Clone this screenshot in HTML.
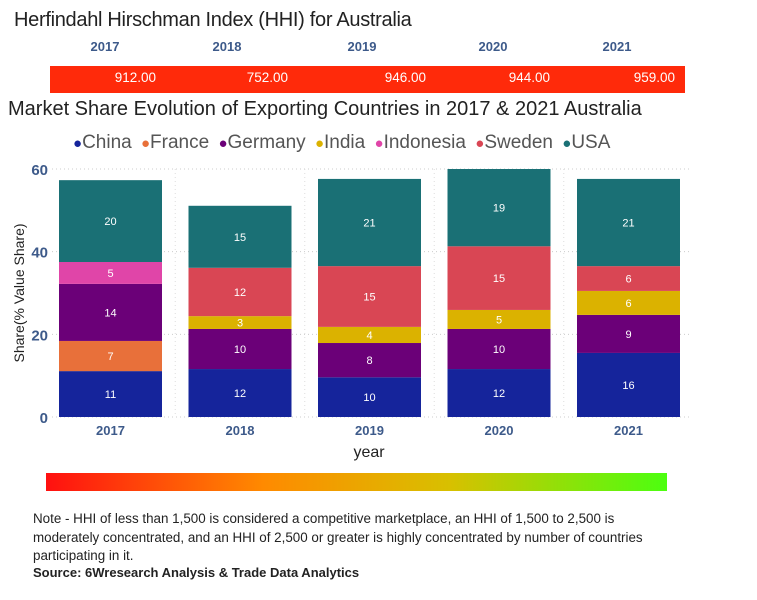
<!DOCTYPE html>
<html><head><meta charset="utf-8"><style>
body{margin:0;width:757px;height:600px;background:#fff;font-family:"Liberation Sans",sans-serif;position:relative;overflow:hidden}
.abs{position:absolute}
</style></head><body>
<div class="abs" style="left:14px;top:9px;font-size:20px;color:#222;letter-spacing:-0.3px">Herfindahl Hirschman Index (HHI) for Australia</div>
<div class="abs" style="left:50px;top:66px;width:635px;height:27px;background:#ff2a0a"></div>
<div class="abs" style="left:8px;top:98px;font-size:20px;color:#222">Market Share Evolution of Exporting Countries in 2017 &amp; 2021 Australia</div>
<div class="abs" style="left:73px;top:132px;font-size:19px;color:#555;white-space:nowrap;word-spacing:4px" id="legend"></div>
<svg class="abs" style="left:0;top:0" width="757" height="600" id="chart"></svg>
<div class="abs" style="left:46px;top:473px;width:621px;height:18px;background:linear-gradient(90deg,#ff1010,#ff8a00 35%,#d8c000 65%,#4cff10)"></div>
<div class="abs" style="left:33px;top:510px;width:650px;font-size:13.4px;line-height:18.5px;color:#222">Note - HHI of less than 1,500 is considered a competitive marketplace, an HHI of 1,500 to 2,500 is moderately concentrated, and an HHI of 2,500 or greater is highly concentrated by number of countries participating in it.</div>
<div class="abs" style="left:33px;top:565px;font-size:13px;font-weight:bold;color:#222">Source: 6Wresearch Analysis &amp; Trade Data Analytics</div>
<script>
const years=["2017","2018","2019","2020","2021"];
const hhi=["912.00","752.00","946.00","944.00","959.00"];
const series=["China","France","Germany","India","Indonesia","Sweden","USA"];
const colors=["#15249b","#e8703a","#6b0078","#dbb200","#e045a8","#d94654","#1a7075"];
const china=[11.1,11.6,9.6,11.6,15.5];
const france=[7.3,0,0,0,0];
const germany=[13.8,9.7,8.3,9.7,9.2];
const india=[0,3.1,3.9,4.6,5.8];
const indonesia=[5.3,0,0,0,0];
const sweden=[0,11.7,14.7,15.4,6.0];
const usa=[19.8,15.0,21.1,18.7,21.1];
const yTicks=[0,20,40,60];
const vals=[china,france,germany,india,indonesia,sweden,usa];
const NS="http://www.w3.org/2000/svg";
const svg=document.getElementById('chart');
const y0=417,ppu=248/60,x0=59,step=129.5,bw=103;
const ys=v=>y0-v*ppu;
const xs=i=>x0+i*step;
const yearCenters=[105,227,362,493,617];
const hhiRight=[156,288,426,550,675];
function el(t,a){const e=document.createElementNS(NS,t);for(const k in a)e.setAttribute(k,a[k]);svg.appendChild(e);return e;}
years.forEach((yr,i)=>{
 const d=document.createElement('div');d.className='abs';d.textContent=yr;
 d.style.cssText=`left:${yearCenters[i]-30}px;top:39px;width:60px;text-align:center;font-size:13px;font-weight:bold;color:#3d5a8a`;
 
 
 document.body.appendChild(d);
 const v=document.createElement('div');v.className='abs';v.textContent=hhi[i];
 v.style.cssText=`left:${hhiRight[i]-100}px;top:70px;width:100px;font-size:13.5px;color:#fff;text-align:right`;
 
 
 document.body.appendChild(v);
});
const lg=document.getElementById('legend');
series.forEach((s,i)=>{const sp=document.createElement('span');
 sp.innerHTML=`<span style="color:${colors[i]};font-size:15px">●</span>${s} `;
 
 
 lg.appendChild(sp);});
yTicks.forEach(t=>{
 const g=el('line',{x1:52,x2:690,y1:ys(t),y2:ys(t),stroke:'#ccc','stroke-dasharray':'1,3'});
 
 
 const tx=el('text',{x:48,y:ys(t)+6,'text-anchor':'end','font-size':15,'font-weight':'bold',fill:'#3d5a8a','font-family':'Liberation Sans'});tx.textContent=t;
 
 
});
years.forEach((yr,i)=>{
 if(i<4){const g=el('line',{x1:xs(i)+bw+(step-bw)/2,x2:xs(i)+bw+(step-bw)/2,y1:ys(60),y2:y0,stroke:'#ddd','stroke-dasharray':'1,3'});
 
 }
 let cum=0;
 vals.forEach((arr,s)=>{const v=arr[i];if(v<=0)return;
  const r=el('rect',{x:xs(i),y:ys(cum+v),width:bw,height:v*ppu,fill:colors[s]});
  
  
  const t=el('text',{x:xs(i)+bw/2,y:ys(cum+v/2)+4,'text-anchor':'middle','font-size':11,fill:'#fff','font-family':'Liberation Sans'});t.textContent=Math.round(v);
  
  
  cum+=v;});
 const tx=el('text',{x:xs(i)+bw/2,y:435,'text-anchor':'middle','font-size':13,'font-weight':'bold',fill:'#3d5a8a','font-family':'Liberation Sans'});tx.textContent=yr;
 
 
});
const xt=el('text',{x:369,y:457,'text-anchor':'middle','font-size':16,fill:'#222','font-family':'Liberation Sans'});xt.textContent='year';


const yt=el('text',{x:0,y:0,transform:'translate(24,293) rotate(-90)','text-anchor':'middle','font-size':14,fill:'#222','font-family':'Liberation Sans'});yt.textContent='Share(% Value Share)';


</script>
</body></html>
